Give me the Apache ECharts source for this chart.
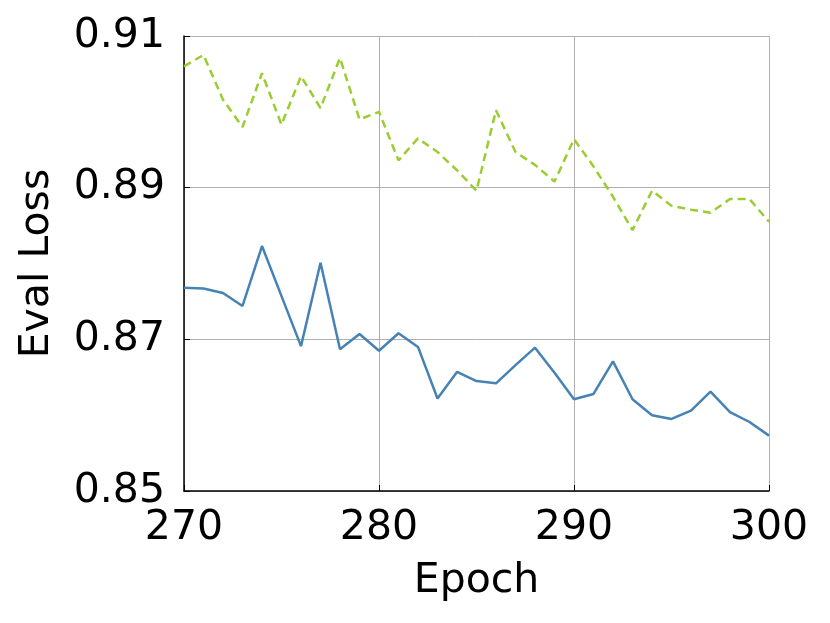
<!DOCTYPE html>
<html>
<head>
<meta charset="utf-8">
<script src="https://cdn.jsdelivr.net/npm/echarts@6/dist/echarts.min.js"></script>
<style>
  html, body { margin: 0; padding: 0; background: #fff; }
  #container { width: 830px; height: 623px; }
</style>
</head>
<body>
<div id="container"></div>
<script>
var epochs = [];
for (var e = 270; e <= 300; e++) epochs.push(e);

var greenLoss = [0.9060, 0.9075, 0.9016, 0.8980, 0.9051, 0.8983, 0.9047, 0.9005, 0.9071, 0.8990,
                 0.9000, 0.8936, 0.8965, 0.8947, 0.8923, 0.8896, 0.9002, 0.8947, 0.8930, 0.8908,
                 0.8964, 0.8928, 0.8888, 0.8844, 0.8896, 0.8876, 0.8871, 0.8867, 0.8885, 0.8885,
                 0.8855];
var blueLoss = [0.8768, 0.8767, 0.8761, 0.8744, 0.8823, 0.8757, 0.8691, 0.8801, 0.8687, 0.8707,
                0.8685, 0.8708, 0.8690, 0.8622, 0.8657, 0.8645, 0.8642, 0.8666, 0.8689, 0.8656,
                0.8621, 0.8628, 0.8671, 0.8621, 0.8600, 0.8595, 0.8606, 0.8631, 0.8604, 0.8591,
                0.8573];

function pairs(vals) {
    var out = [];
    for (var i = 0; i < vals.length; i++) out.push([epochs[i], vals[i]]);
    return out;
}

var dom = document.getElementById("container");
var myChart = echarts.init(dom);
var font = 'DejaVu Sans';

var option = {
    animation: false,
    backgroundColor: '#fff',
    grid: { left: 184, top: 36, right: 61, bottom: 132 },
    xAxis: {
        type: 'value',
        min: 270, max: 300, interval: 10,
        name: 'Epoch',
        nameLocation: 'middle',
        nameGap: 70,
        nameTextStyle: { fontFamily: font, fontSize: 41, color: '#000' },
        axisLine: { show: true, lineStyle: { color: '#000', width: 1.5 } },
        axisTick: { show: true, inside: true, length: 6, lineStyle: { color: '#000' } },
        axisLabel: { fontFamily: font, fontSize: 41, color: '#000', margin: 17 },
        splitLine: { show: true, lineStyle: { color: '#b0b0b0', width: 1 } }
    },
    yAxis: {
        type: 'value',
        min: 0.85, max: 0.91, interval: 0.02,
        name: 'Eval Loss',
        nameLocation: 'middle',
        nameGap: 126,
        nameTextStyle: { fontFamily: font, fontSize: 41, color: '#000' },
        axisLine: { show: true, lineStyle: { color: '#000', width: 1.5 } },
        axisTick: { show: true, inside: true, length: 6, lineStyle: { color: '#000' } },
        axisLabel: {
            fontFamily: font, fontSize: 41, color: '#000', margin: 19,
            formatter: function (v) { return v.toFixed(2); }
        },
        splitLine: { show: true, lineStyle: { color: '#b0b0b0', width: 1 } }
    },
    series: [{
        type: 'line',
        data: pairs(greenLoss),
        showSymbol: false,
        lineStyle: { color: '#9acd32', width: 2.5, type: [8, 5] }
    }, {
        type: 'line',
        data: pairs(blueLoss),
        showSymbol: false,
        lineStyle: { color: '#4682b4', width: 2.5 }
    }]
};

if (option && typeof option === "object") {
    myChart.setOption(option, true);
}
</script>
</body>
</html>
